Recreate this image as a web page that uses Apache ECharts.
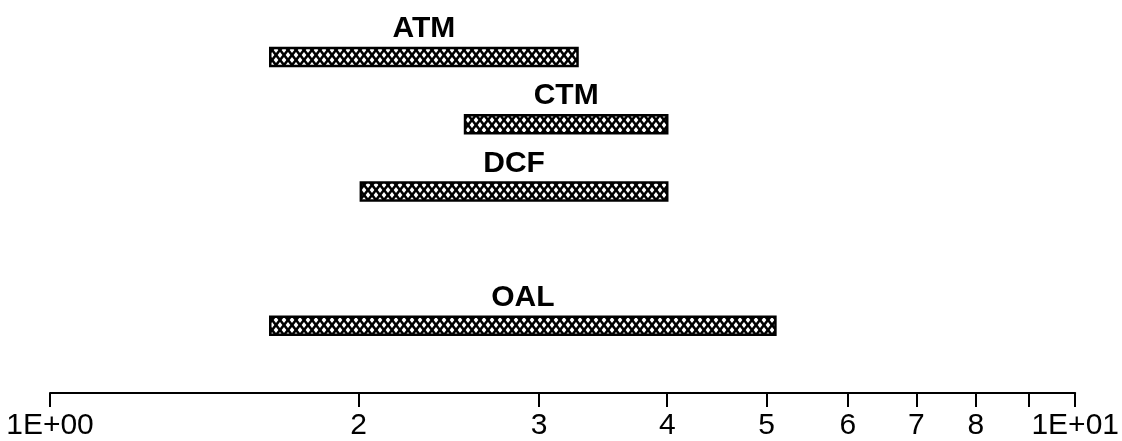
<!DOCTYPE html>
<html><head><meta charset="utf-8">
<script src="https://cdn.jsdelivr.net/npm/echarts@6/dist/echarts.min.js"></script>
<style>html,body{margin:0;padding:0;background:#fff}#c{width:1122px;height:441px}</style>
</head><body><div id="c"></div><script>
// Data
const categories = ['', 'OAL', '', 'DCF', 'CTM', 'ATM'];
const barNames = ['ATM', 'CTM', 'DCF', 'OAL'];
const barStart = [1.64, 2.54, 2.01, 1.64];
const barEnd = [3.27, 4.0, 4.0, 5.1];
const tickValues = [1, 2, 3, 4, 5, 6, 7, 8, 9, 10];
const labelValues = [1, 2, 3, 4, 5, 6, 7, 8, 10];
const labelText = {1: '1E+00', 10: '1E+01'};

// crosshatch pattern
const TW = 8, TH = 10;
const tile = document.createElement('canvas');
tile.width = TW; tile.height = TH;
(function(){
  const g = tile.getContext('2d');
  g.fillStyle = '#fff'; g.fillRect(0, 0, TW, TH);
  g.strokeStyle = '#000'; g.lineWidth = 2.6;
  for (let k = -1; k <= 1; k++) {
    g.beginPath(); g.moveTo(k*TW, 0); g.lineTo(k*TW + TW, TH); g.stroke();
    g.beginPath(); g.moveTo(k*TW + TW, 0); g.lineTo(k*TW, TH); g.stroke();
  }
})();
const pattern = {image: tile, repeat: 'repeat'};

const seriesData = barNames.map((n, i) => [barStart[i], barEnd[i], n]);

const chart = echarts.init(document.getElementById('c'));
chart.setOption({
  animation: false,
  backgroundColor: '#fff',
  grid: {left: 50, right: 45, top: 57, bottom: 46},
  xAxis: {
    type: 'log', logBase: 10, min: 1, max: 10,
    axisLine: {show: true, lineStyle: {color: '#000', width: 2}},
    axisTick: {show: true, customValues: tickValues, length: 14, lineStyle: {color: '#000', width: 2}},
    axisLabel: {show: true, customValues: labelValues, margin: 18,
      formatter: v => labelText[v] || String(Math.round(v)),
      fontFamily: '"Liberation Sans", Arial, sans-serif', fontSize: 30, color: '#000'},
    splitLine: {show: false},
    minorTick: {show: false}
  },
  yAxis: {
    type: 'category', data: categories, boundaryGap: false,
    show: false
  },
  series: [{
    type: 'custom',
    clip: false,
    encode: {x: [0, 1], y: 2},
    data: seriesData,
    renderItem: function (params, api) {
      const cat = categories.indexOf(seriesData[params.dataIndex][2]);
      const s = api.coord([api.value(0), cat]);
      const e = api.coord([api.value(1), cat]);
      const h = 18;
      return {type: 'group', children: [
        {type: 'rect', shape: {x: s[0], y: s[1] - h/2, width: e[0] - s[0], height: h},
          style: {fill: pattern, stroke: '#000', lineWidth: 2.5}},
        {type: 'text', style: {text: barNames[params.dataIndex], x: (s[0] + e[0]) / 2, y: s[1] - h/2 - 4,
          align: 'center', verticalAlign: 'bottom', fontSize: 30, fontWeight: 'bold',
          fontFamily: '"Liberation Sans", Arial, sans-serif', fill: '#000'}}
      ]};
    }
  }]
});
</script></body></html>
